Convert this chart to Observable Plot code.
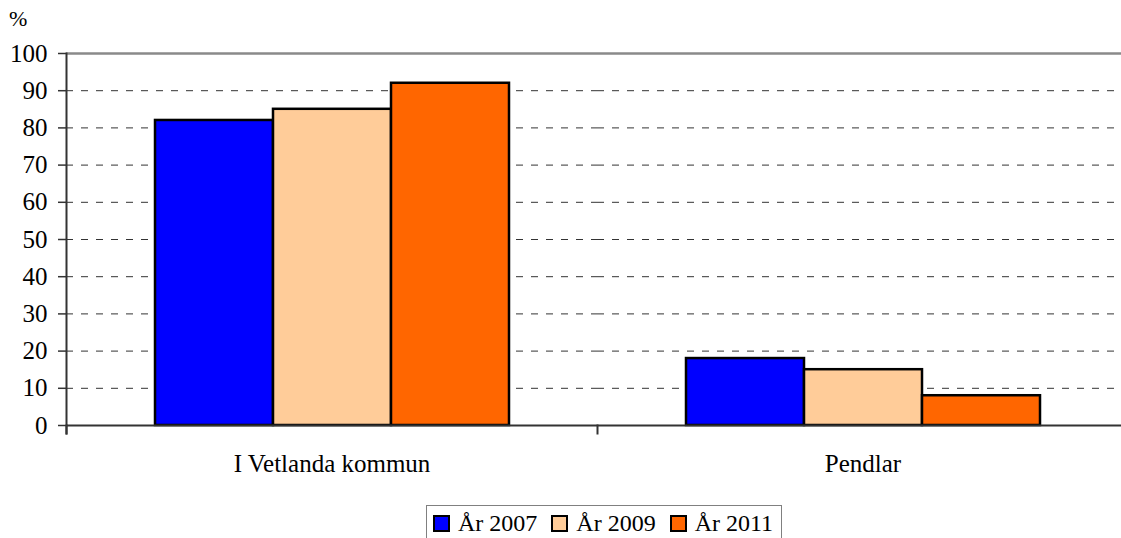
<!DOCTYPE html>
<html>
<head>
<meta charset="utf-8">
<script src="https://cdn.jsdelivr.net/npm/d3@7"></script>
<script src="https://cdn.jsdelivr.net/npm/@observablehq/plot@0.6"></script>
<style>
  html, body { margin: 0; padding: 0; background: white; overflow: hidden; }
  body { width: 1121px; height: 538px; position: relative; font-family: "Liberation Serif", "Times New Roman", serif; }
  #chart { position: absolute; left: 0; top: 0; }
  #unit { position: absolute; left: 9px; top: 6px; font-size: 22px; color: #000; z-index: 2; }
  #legend { position: absolute; left: 426px; top: 505px; height: 40px; box-sizing: border-box; border: 1.5px solid #808080; display: flex; align-items: flex-start; padding: 3px 8px 0 6px; gap: 14px; font-size: 24px; z-index: 2; background: white; }
  .item { display: flex; align-items: center; gap: 8px; line-height: 28px; }
  .sw { width: 13px; height: 13px; border: 2px solid #000; }
</style>
</head>
<body>
<div id="chart"></div>
<div id="unit">%</div>
<div id="legend"></div>
<script>
const categories = ["I Vetlanda kommun", "Pendlar"];
const years = ["År 2007", "År 2009", "År 2011"];
const values2007 = [82, 18];
const values2009 = [85, 15];
const values2011 = [92, 8];
const colors = ["#0000FF", "#FFCC99", "#FF6600"];
const yTicks = [0, 10, 20, 30, 40, 50, 60, 70, 80, 90, 100];

const series = [values2007, values2009, values2011];
const data = [];
categories.forEach((c, i) => years.forEach((y, j) => data.push({category: c, year: y, value: series[j][i]})));

const W = 1130, H = 500, mT = 53, mB = 75, mL = 66, mR = 2;
const plotH = H - mT - mB;

const chart = Plot.plot({
  width: W, height: H,
  marginTop: mT, marginBottom: mB, marginLeft: mL, marginRight: mR,
  style: {fontFamily: "'Liberation Serif', 'Times New Roman', serif", fontSize: "25px", color: "#000", background: "transparent", maxWidth: "none", overflow: "visible"},
  fx: {domain: categories, padding: 0, label: null},
  x: {domain: years, paddingInner: 0, paddingOuter: 0.744, axis: null},
  y: {domain: [0, 100], label: null},
  color: {domain: years, range: colors},
  marks: [
    Plot.ruleY(yTicks.filter(d => d > 0 && d < 100), {stroke: "#333", strokeWidth: 1, strokeDasharray: "7,8"}),
    Plot.ruleY([100], {stroke: "#8a8a8a", strokeWidth: 2.5}),
    Plot.barY(data, {fx: "category", x: "year", y: "value", fill: "year", stroke: "#000", strokeWidth: 2.5}),
    Plot.ruleY([0], {stroke: "#333", strokeWidth: 2}),
    Plot.frame({anchor: "left", facetAnchor: "left", stroke: "#333", strokeWidth: 2, insetBottom: -8}),
    Plot.frame({anchor: "left", stroke: "#333", strokeWidth: 2, insetTop: plotH, insetBottom: -8}),
    Plot.axisY({ticks: yTicks, tickSize: 8, tickPadding: 11, label: null, stroke: "#333", strokeWidth: 1.5, fill: "#000"}),
    Plot.axisFx({anchor: "bottom", tickSize: 0, tickPadding: 29, label: null, fill: "#000"})
  ]
});
document.getElementById("chart").appendChild(chart);

const legend = document.getElementById("legend");
years.forEach((y, j) => {
  const item = document.createElement("div");
  item.className = "item";
  const sw = document.createElement("div");
  sw.className = "sw";
  sw.style.background = colors[j];
  const t = document.createElement("span");
  t.textContent = y;
  item.appendChild(sw);
  item.appendChild(t);
  legend.appendChild(item);
});
</script>
</body>
</html>
